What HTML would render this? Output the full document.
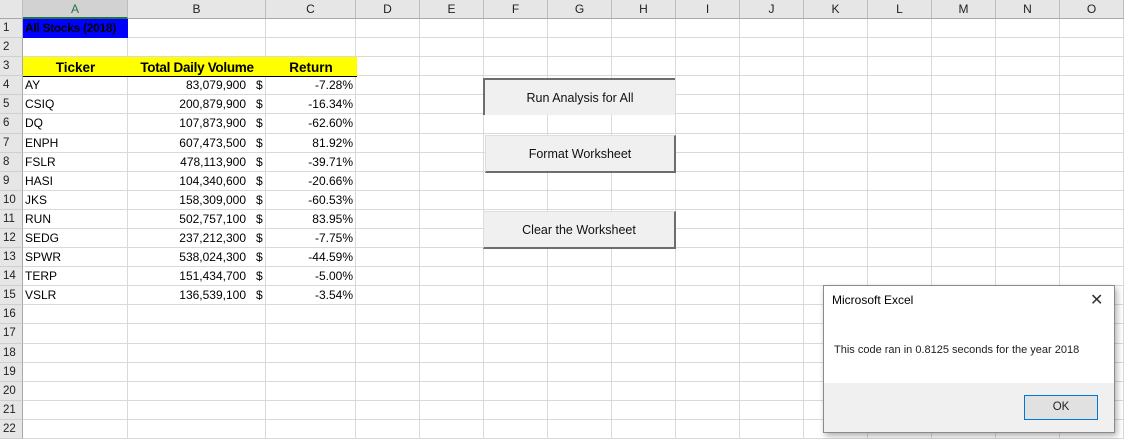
<!DOCTYPE html>
<html><head><meta charset="utf-8">
<style>
*{margin:0;padding:0;box-sizing:border-box}
body{width:1124px;height:439px;overflow:hidden;background:#fff;font-family:"Liberation Sans",sans-serif;position:relative}
.abs{position:absolute}
.ch{position:absolute;top:0;height:19px;background:#e6e6e6;border-right:1px solid #bdbdbd;border-bottom:1px solid #a8a8a8;font-size:12px;color:#222;text-align:center;line-height:19px}
.rh{position:absolute;left:0;width:23px;background:#e6e6e6;border-right:1px solid #a8a8a8;border-bottom:1px solid #cfcfcf;font-size:11.5px;color:#222;text-align:left;padding-left:3px}
.vl{position:absolute;top:19px;width:1px;height:420px;background:#d9d9d9}
.hl{position:absolute;left:23px;width:1101px;height:1px;background:#d9d9d9}
.cell{position:absolute;font-size:12px;color:#000;white-space:nowrap}
.btn{position:absolute;background:#f0f0f0;font-size:12.5px;color:#111;text-align:center;display:flex;align-items:center;justify-content:center}
</style></head><body>
<div id="grid"></div>
<div class="abs" style="left:23px;top:19px;width:105px;height:19px;background:#0000ff"></div>
<div class="cell" style="left:25px;top:21px;font-size:12px;font-weight:bold;letter-spacing:-0.3px">All Stocks (2018)</div>
<div class="abs" style="left:23px;top:57px;width:334px;height:20px;background:#ffff00;border-bottom:1px solid #000"></div>
<div class="cell" style="left:23px;top:60px;width:105px;text-align:center;font-weight:bold;font-size:13.5px">Ticker</div>
<div class="cell" style="left:128px;top:60px;width:138px;text-align:center;font-weight:bold;font-size:13.5px;letter-spacing:-0.3px">Total Daily Volume</div>
<div class="cell" style="left:266px;top:60px;width:90px;text-align:center;font-weight:bold;font-size:13.5px">Return</div>
<div id="rows"></div>

<div class="btn" style="left:483px;top:78px;width:192px;height:37px;border-top:2px solid #6d6d6d;border-left:2px solid #6d6d6d">Run Analysis for All</div>
<div class="btn" style="left:485px;top:135px;width:191px;height:38px;border-right:2px solid #6d6d6d;border-bottom:2px solid #6d6d6d;border-top:1px solid #ddd;border-left:1px solid #ddd">Format Worksheet</div>
<div class="btn" style="left:483px;top:211px;width:193px;height:38px;border-right:2px solid #6d6d6d;border-bottom:2px solid #6d6d6d;border-top:1px solid #ddd;border-left:1px solid #ddd">Clear the Worksheet</div>

<div class="abs" style="left:823px;top:285px;width:292px;height:148px;background:#fff;border:1px solid #8a8a8a;box-shadow:2px 3px 6px rgba(0,0,0,0.3)">
  <div class="abs" style="left:8px;top:7px;font-size:12px;color:#000">Microsoft Excel</div>
  <div class="abs" style="left:266px;top:4px;font-size:16px;color:#333">✕</div>
  <div class="abs" style="left:10px;top:58px;font-size:11px;color:#222">This code ran in 0.8125 seconds for the year 2018</div>
  <div class="abs" style="left:0;top:97px;width:290px;height:49px;background:#f0f0f0"></div>
  <div class="abs" style="left:200px;top:109px;width:74px;height:25px;background:#e1e1e1;border:1px solid #0078d7;font-size:11.5px;text-align:center;line-height:23px;color:#222">OK</div>
</div>

<script>
const tickers=["AY","CSIQ","DQ","ENPH","FSLR","HASI","JKS","RUN","SEDG","SPWR","TERP","VSLR"];
const volumes=["83,079,900","200,879,900","107,873,900","607,473,500","478,113,900","104,340,600","158,309,000","502,757,100","237,212,300","538,024,300","151,434,700","136,539,100"];
const returns=["-7.28%","-16.34%","-62.60%","81.92%","-39.71%","-20.66%","-60.53%","83.95%","-7.75%","-44.59%","-5.00%","-3.54%"];
const colNames=["A","B","C","D","E","F","G","H","I","J","K","L","M","N","O"];
const colEdges=[23,128,266,356,420,484,548,612,676,740,804,868,932,996,1060,1124];
const top0=19, rh=19.09;
const g=document.getElementById('grid');
let corner=document.createElement('div');
corner.className='ch';corner.style.left='0px';corner.style.width='23px';


g.appendChild(corner);
for(let i=0;i<colNames.length;i++){
  const d=document.createElement('div');
  d.className='ch';d.style.left=colEdges[i]+'px';d.style.width=(colEdges[i+1]-colEdges[i])+'px';
  d.textContent=colNames[i];
  if(i==0){d.style.background='#d2d2d2';d.style.borderBottom='2px solid #217346';d.style.color='#217346';}
  
  
  g.appendChild(d);
  const v=document.createElement('div');v.className='vl';v.style.left=(colEdges[i+1]-1)+'px';
  
  
  g.appendChild(v);
}
for(let r=0;r<22;r++){
  const y=top0+r*rh;
  const d=document.createElement('div');
  d.className='rh';d.style.top=y+'px';d.style.height=rh+'px';d.style.lineHeight=rh+'px';
  d.textContent=r+1;
  
  
  g.appendChild(d);
  const h=document.createElement('div');h.className='hl';h.style.top=(y+rh-1)+'px';
  
  
  g.appendChild(h);
}
const rows=document.getElementById('rows');
function cell(txt,style,name){
  const c=document.createElement('div');c.className='cell';c.style.cssText=style;c.textContent=txt;
  
  
  rows.appendChild(c);
}
for(let i=0;i<tickers.length;i++){
  const y=top0+(3+i)*rh+2;
  cell(tickers[i],'left:25px;top:'+y+'px','ticker-cell');
  cell(volumes[i],'left:128px;width:118px;text-align:right;top:'+y+'px','volume-cell');
  cell('$','left:256px;top:'+y+'px','currency-symbol');
  cell(returns[i],'left:266px;width:87px;text-align:right;top:'+y+'px','return-cell');
}
</script>
</body></html>
